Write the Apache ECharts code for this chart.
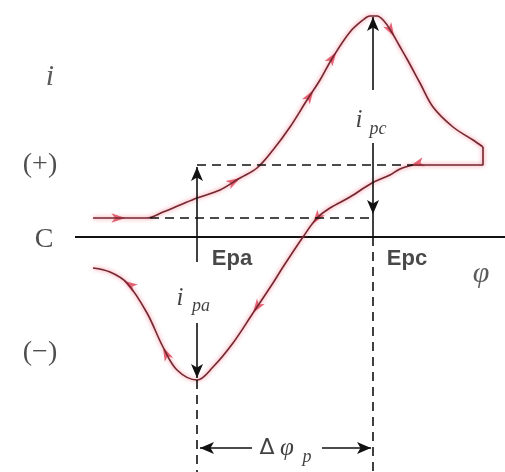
<!doctype html>
<html>
<head>
<meta charset="UTF-8">
<title>循环伏安曲线</title>
<script src="https://cdn.jsdelivr.net/npm/echarts@6/dist/echarts.min.js"></script>
<style>
	html, body { margin: 0; padding: 0; background: #fff; }
	#chart { width: 505px; height: 472px; }
</style>
</head>
<body>
<div id="chart"></div>
<script type="text/javascript">
	// 正向扫描 (电位, 电流)
	var forwardE = [93, 147, 163, 180, 197, 220, 240, 257, 273, 290, 307, 320, 333, 350, 363, 370, 377, 384, 391, 399, 407, 420, 433, 453, 473, 483];
	var forwardI = [19, 19, 25, 32, 39, 47, 59, 69, 87, 110, 137, 157, 180, 205, 217, 221, 221, 216, 206, 192, 178, 154, 130, 110, 97, 90];
	// 换向
	var switchE = [483, 483, 413];
	var switchI = [90, 72, 72];
	// 反向扫描
	var reverseE = [413, 400, 390, 372, 350, 330, 317, 303, 283, 273, 253, 233, 213, 197, 177, 163, 147, 127, 110, 93];
	var reverseI = [72, 68, 62, 54, 40, 29, 19, 0, -30, -46, -76, -106, -130, -143, -133, -110, -76, -46, -35, -31];

	// 方向箭头所在位置 (数组下标, 可带小数)
	var forwardArrowAt = [0.6, 6, 10.5, 12.2, 18.4];
	var reverseArrowAt = [0.2, 6.3, 10, 15, 17.2];

	// 横轴
	var axisE = [75, 505];

	// 辅助线 [E1, I1, E2, I2]
	var dashedGuides = [
		[150, 19, 373, 19],
		[197, 72, 413, 72],
		[197, -143, 197, -235],
		[373, 0, 373, -235]
	];
	var solidGuides = [
		[373, 23, 373, 0]
	];
	var arrowGuides = [
		[197, -25, 197, 70],
		[373, 147, 373, 220],
		[373, 94, 373, 23],
		[197, -86, 197, -141],
		[252, -211, 200, -211],
		[322, -211, 371, -211]
	];

	// 文字 [E, I, text, style]
	var textLabels = [
		[50, 160, 'i', 'it'],
		[40, 72, '(+)', 'n'],
		[44, -3, 'C', 'n'],
		[40, -116, '(−)', 'n'],
		[232, -22, 'Epa', 'b'],
		[407, -22, 'Epc', 'b'],
		[481, -37, 'φ', 'it'],
		[359, 117, 'i', 'i'],
		[378, 108, 'pc', 's'],
		[180, -61, 'i', 'i'],
		[201, -69, 'pa', 's'],
		[267, -211, 'Δ', 'd'],
		[287, -211, 'φ', 'i'],
		[307, -220, 'p', 's']
	];

	var textStyles = {
		it: { fontFamily: 'Liberation Serif', fontStyle: 'italic', fontSize: 30, color: '#333' },
		n: { fontFamily: 'Liberation Serif', fontSize: 28, color: '#222' },
		b: { fontFamily: 'Liberation Sans', fontWeight: 'bold', fontSize: 22, color: '#1a1a1a' },
		i: { fontFamily: 'Liberation Serif', fontStyle: 'italic', fontSize: 25, color: '#111' },
		s: { fontFamily: 'Liberation Serif', fontStyle: 'italic', fontSize: 18, color: '#111' },
		d: { fontFamily: 'DejaVu Sans', fontSize: 22, color: '#111' }
	};

	function zip(xs, ys) {
		var out = [];
		for(var i = 0; i < xs.length; i++) {
			out.push([xs[i], ys[i]]);
		}
		return out;
	}

	function placeArrows(E, I, at) {
		return at.map(function(t) {
			var k = Math.min(Math.floor(t), E.length - 2);
			var f = t - k;
			var x = E[k] + (E[k + 1] - E[k]) * f;
			var y = I[k] + (I[k + 1] - I[k]) * f;
			var ang = Math.atan2(I[k + 1] - I[k], E[k + 1] - E[k]) * 180 / Math.PI;
			return { value: [x, y], symbolRotate: ang - 90 };
		});
	}

	function guideLines(list, type, withArrow) {
		return list.map(function(g) {
			return [{
				coord: [g[0], g[1]],
				symbol: 'none'
			}, {
				coord: [g[2], g[3]],
				symbol: withArrow ? 'arrow' : 'none',
				lineStyle: { type: type }
			}];
		});
	}

	var curveStyle = {
		color: '#73272f',
		width: 1.6,
		shadowColor: 'rgba(240, 70, 95, 0.8)',
		shadowBlur: 4
	};

	var guides = []
		.concat(guideLines(dashedGuides, [9, 6], false))
		.concat(guideLines(solidGuides, 'solid', false))
		.concat(guideLines(arrowGuides, 'solid', true));

	var labelData = textLabels.map(function(t) {
		var st = textStyles[t[3]];
		return {
			value: [t[0], t[1]],
			label: {
				show: true,
				position: 'inside',
				formatter: t[2],
				fontFamily: st.fontFamily,
				fontStyle: st.fontStyle || 'normal',
				fontWeight: st.fontWeight || 'normal',
				fontSize: st.fontSize,
				color: st.color
			}
		};
	});

	var option = {
		animation: false,
		backgroundColor: '#fff',
		grid: { left: 0, right: 0, top: 0, bottom: 0 },
		xAxis: { type: 'value', min: 0, max: 505, show: false },
		yAxis: { type: 'value', min: -235, max: 237, show: false },
		series: [{
			name: 'axis',
			type: 'line',
			data: zip(axisE, [0, 0]),
			symbol: 'none',
			silent: true,
			lineStyle: { color: '#111', width: 2 },
			markLine: {
				silent: true,
				symbol: ['none', 'none'],
				symbolSize: [9, 14],
				label: { show: false },
				lineStyle: { color: '#111', width: 1.6 },
				data: guides
			}
		}, {
			name: 'forward',
			type: 'line',
			data: zip(forwardE, forwardI),
			smooth: 0.35,
			symbol: 'none',
			lineStyle: curveStyle
		}, {
			name: 'switch',
			type: 'line',
			data: zip(switchE, switchI),
			symbol: 'none',
			lineStyle: curveStyle
		}, {
			name: 'reverse',
			type: 'line',
			data: zip(reverseE, reverseI),
			smooth: 0.35,
			symbol: 'none',
			lineStyle: curveStyle
		}, {
			name: 'direction',
			type: 'scatter',
			symbol: 'arrow',
			symbolSize: [7, 14],
			itemStyle: { color: '#dd4a5e', opacity: 0.85 },
			data: placeArrows(forwardE, forwardI, forwardArrowAt)
				.concat(placeArrows(reverseE, reverseI, reverseArrowAt))
		}, {
			name: 'labels',
			type: 'scatter',
			symbolSize: 0,
			silent: true,
			data: labelData
		}]
	};

	var chart = echarts.init(document.getElementById('chart'));
	chart.setOption(option);
</script>
</body>
</html>
